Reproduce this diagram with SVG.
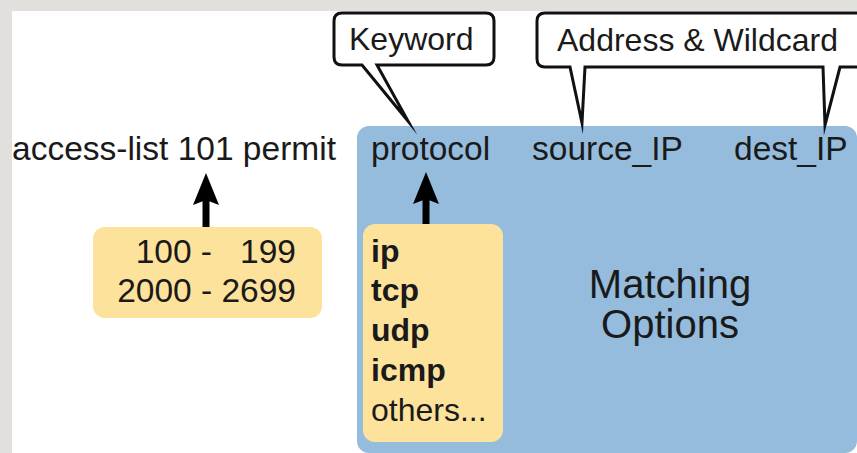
<svg xmlns="http://www.w3.org/2000/svg" width="857" height="453" viewBox="0 0 857 453">
<style>
text{font-family:"Liberation Sans",Arial,Helvetica,sans-serif;fill:#1a1a1a}
.t33{font-size:33.5px}
.t32{font-size:32px}
.big{font-size:40px}
.b{font-weight:bold}
.callout{fill:#fff;stroke:#111;stroke-width:3;stroke-linejoin:miter;stroke-miterlimit:20}
.blue{fill:#95bcdd}
.yellow{fill:#fde29c}
.conn{stroke:#000;stroke-width:7;fill:none}
</style>
<defs>
<marker id="ah" viewBox="0 0 32 26" markerWidth="32" markerHeight="26" refX="10" refY="13" orient="auto" markerUnits="userSpaceOnUse">
<path d="M0,0 L32,13 L0,26 L5,13 Z" fill="#000"/>
</marker>
</defs>
<rect x="0" y="0" width="857" height="453" fill="#e1e0dc"/>
<rect x="12" y="11" width="845" height="442" fill="#ffffff"/>

<g id="matching-options">
<rect class="blue" x="357" y="126" width="500" height="327" rx="12"/>
<text class="big" x="670" y="298" text-anchor="middle">Matching</text>
<text class="big" x="670" y="338" text-anchor="middle">Options</text>
</g>

<g id="command">
<text class="t33" x="12" y="160">access-list 101 permit</text>
</g>
<g id="protocol">
<text class="t33" x="371" y="160">protocol</text>
</g>
<g id="source-ip">
<text class="t33" x="532" y="160">source_IP</text>
</g>
<g id="dest-ip">
<text class="t33" x="734" y="160">dest_IP</text>
</g>

<g id="callout-keyword">
<path class="callout" d="M342,13 H486 Q494,13 494,21 V57 Q494,65 486,65 H377 L408,121 L362,65 H342 Q334,65 334,57 V21 Q334,13 342,13 Z"/>
<text class="t32" x="349" y="50">Keyword</text>
</g>
<g id="callout-address">
<path class="callout" d="M545,13 H875 V67 H840 L825,125 L823,67 H585 L582,123 L570,67 H545 Q537,67 537,59 V21 Q537,13 545,13 Z"/>
<text class="t32" x="557" y="51">Address &amp; Wildcard</text>
</g>

<g id="acl-range">
<rect class="yellow" x="93" y="227" width="229" height="91" rx="12"/>
<text class="t33" y="263"><tspan x="212" text-anchor="end">100 -</tspan><tspan x="296" text-anchor="end">199</tspan></text>
<text class="t33" x="296" y="302" text-anchor="end">2000 - 2699</text>
</g>

<g id="protocol-list">
<rect class="yellow" x="363" y="224" width="140" height="218" rx="12"/>
<text class="t32 b" x="371" y="262">ip</text>
<text class="t32 b" x="371" y="301">tcp</text>
<text class="t32 b" x="371" y="341">udp</text>
<text class="t32 b" x="371" y="381">icmp</text>
<text class="t32" x="371" y="421">others...</text>
</g>

<g id="connectors">
<line class="conn" x1="206" y1="227" x2="206" y2="195" marker-end="url(#ah)"/>
<line class="conn" x1="426" y1="224" x2="426" y2="194" marker-end="url(#ah)"/>
</g>
</svg>
